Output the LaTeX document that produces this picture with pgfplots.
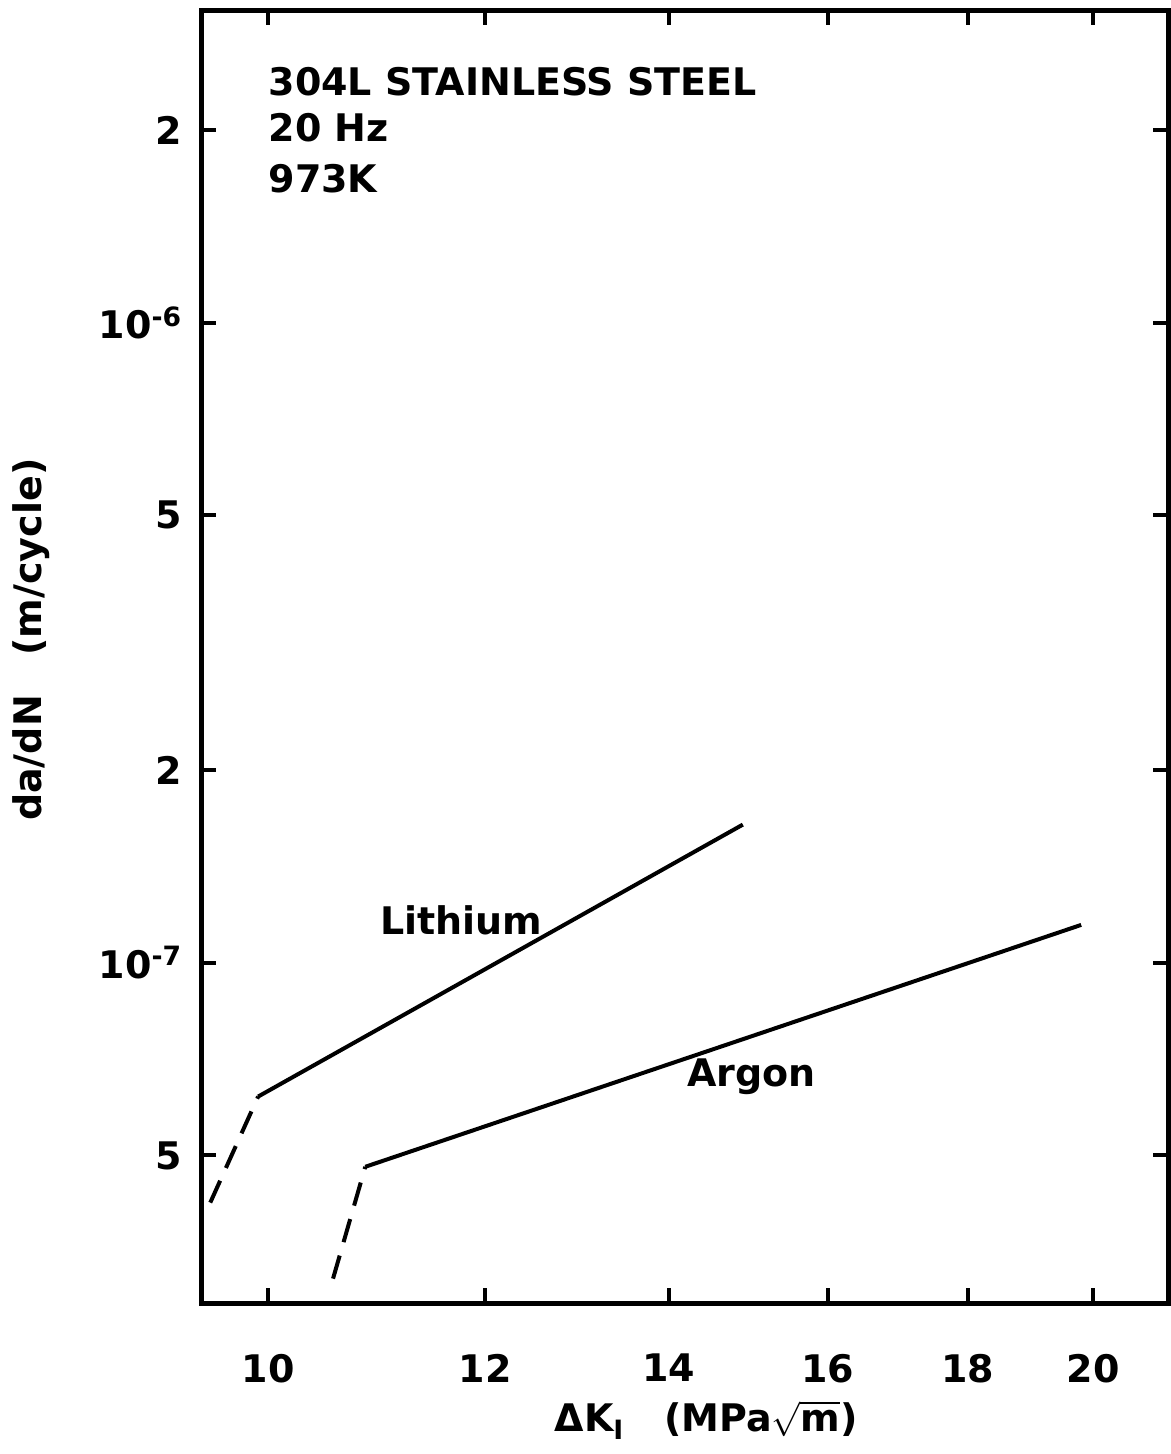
\documentclass[border=0pt]{standalone}
\usepackage{pgfplots}
\pgfplotsset{compat=1.18}
\usepackage{fontspec}
\setmainfont{DejaVu Sans}
\begin{document}
\fontsize{19}{23}\selectfont\bfseries
\begin{tikzpicture}
\begin{axis}[
  name=ax,
  scale only axis,
  width=483.5pt, height=646.5pt,
  xmode=log, ymode=log,
  xmin=9.453, xmax=21.30,
  ymin=2.94e-8, ymax=3.08e-6,
  axis line style={line width=2.5pt},
  tick style={line width=2pt, black},
  major tick length=7.5pt,
  tick align=inside,
  xtick={10,12,14,16,18,20},
  xticklabels={10,12,14,16,18,20},
  ytick={5e-8,1e-7,2e-7,5e-7,1e-6,2e-6},
  yticklabels={5,{10\textsuperscript{-7}},2,5,{10\textsuperscript{-6}},2},
  xminorticks=false, yminorticks=false,
  xticklabel style={yshift=-19pt},
  yticklabel style={xshift=-3pt},
  clip=false,
  xlabel={ΔK\textsubscript{I}\ \ \ (MPa$\sqrt{\hbox{\bfseries m}}$)},
  xlabel style={at={(rel axis cs:0.522,-0.0905)}, anchor=center},
  ylabel={da/dN\ \ \ (m/cycle)},
  ylabel style={at={(rel axis cs:-0.1758,0.513)}, anchor=center, rotate=0},
]
% Lithium
\addplot[black, line width=2pt, dash pattern=on 12pt off 7pt] coordinates {(9.525,4.22e-8) (9.916,6.18e-8)};
\addplot[black, line width=2pt] coordinates {(9.916,6.18e-8) (14.90,1.644e-7)};
% Argon
\addplot[black, line width=2pt, dash pattern=on 12pt off 7pt] coordinates {(10.56,3.21e-8) (10.85,4.80e-8)};
\addplot[black, line width=2pt] coordinates {(10.85,4.80e-8) (19.80,1.146e-7)};
\node[anchor=base west, inner sep=0pt] at (rel axis cs:0.0693,0.934) {304L STAINLESS STEEL};
\node[anchor=base west, inner sep=0pt] at (rel axis cs:0.0693,0.8987) {20 Hz};
\node[anchor=base west, inner sep=0pt] at (rel axis cs:0.0693,0.8585) {973K};
\node at (rel axis cs:0.269,0.296) {Lithium};
\node at (rel axis cs:0.569,0.175) {Argon};
\end{axis}
\path[use as bounding box] ([xshift=-100pt,yshift=-75.5pt]ax.south west) rectangle ([yshift=5pt]ax.north east);
\end{tikzpicture}
\end{document}
